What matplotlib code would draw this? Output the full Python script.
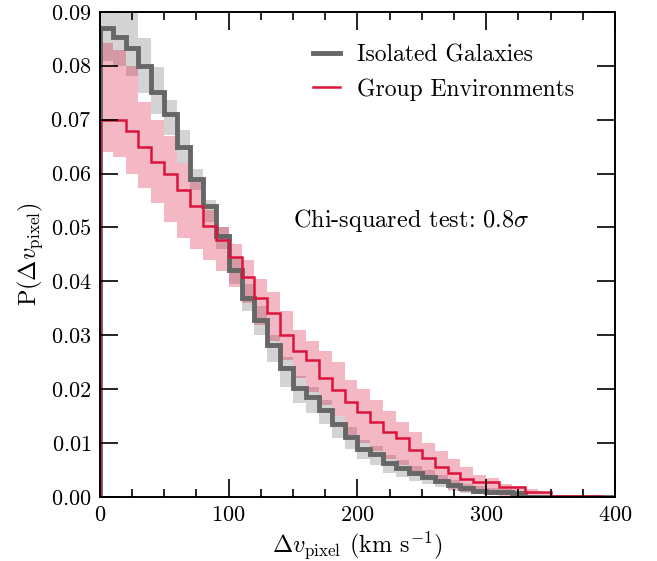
import numpy as np
import matplotlib
matplotlib.use('Agg')
import matplotlib.pyplot as plt
from matplotlib.ticker import MultipleLocator
from matplotlib.lines import Line2D

plt.rcParams['font.family'] = 'serif'
plt.rcParams['font.serif'] = ['cmr10', 'DejaVu Serif']
plt.rcParams['mathtext.fontset'] = 'cm'
plt.rcParams['axes.unicode_minus'] = False
plt.rcParams['axes.formatter.use_mathtext'] = True

# bin edges in km/s (10 km/s bins)
edges = np.arange(0, 410, 10)

# isolated galaxies: histogram and band
iso = [0.0870, 0.0853, 0.0832, 0.0800, 0.0751, 0.0710, 0.0650, 0.0590, 0.0540, 0.0484,
       0.0421, 0.0369, 0.0328, 0.0282, 0.0239, 0.0202, 0.0186, 0.0161, 0.0135, 0.0112,
       0.0090, 0.0080, 0.0063, 0.0053, 0.0045, 0.0038, 0.0030, 0.0022, 0.0017, 0.0012,
       0.0010, 0.0010, 0.0008, 0.0, 0.0, 0.0, 0.0, 0.0, 0.0, 0.0]
iso_lo = [0.0808, 0.0800, 0.0780, 0.0750, 0.0711, 0.0672, 0.0620, 0.0570, 0.0510, 0.0460,
          0.0395, 0.0345, 0.0300, 0.0250, 0.0205, 0.0175, 0.0155, 0.0135, 0.0110, 0.0090,
          0.0070, 0.0060, 0.0045, 0.0038, 0.0030, 0.0025, 0.0018, 0.0012, 0.0008, 0.0005,
          0.0004, 0.0003, 0.0002, 0.0, 0.0, 0.0, 0.0, 0.0, 0.0, 0.0]
iso_hi = [0.0950, 0.0950, 0.0920, 0.0851, 0.0798, 0.0737, 0.0680, 0.0608, 0.0551, 0.0500,
          0.0445, 0.0395, 0.0355, 0.0300, 0.0260, 0.0225, 0.0205, 0.0180, 0.0150, 0.0130,
          0.0105, 0.0095, 0.0078, 0.0068, 0.0058, 0.0050, 0.0040, 0.0032, 0.0025, 0.0020,
          0.0017, 0.0015, 0.0012, 0.0, 0.0, 0.0, 0.0, 0.0, 0.0, 0.0]

# group environments: histogram and band
grp = [0.0700, 0.0700, 0.0679, 0.0650, 0.0621, 0.0600, 0.0570, 0.0540, 0.0502, 0.0477,
       0.0445, 0.0408, 0.0369, 0.0341, 0.0300, 0.0270, 0.0254, 0.0220, 0.0199, 0.0177,
       0.0158, 0.0139, 0.0120, 0.0109, 0.0088, 0.0072, 0.0055, 0.0045, 0.0033, 0.0028,
       0.0028, 0.0018, 0.0018, 0.0010, 0.0010, 0.0002, 0.0002, 0.0002, 0.0002, 0.0]
grp_lo = [0.0640, 0.0630, 0.0600, 0.0573, 0.0545, 0.0510, 0.0480, 0.0460, 0.0440, 0.0420,
          0.0390, 0.0360, 0.0320, 0.0290, 0.0255, 0.0220, 0.0195, 0.0170, 0.0150, 0.0115,
          0.0100, 0.0085, 0.0070, 0.0060, 0.0045, 0.0035, 0.0025, 0.0015, 0.0010, 0.0005,
          0.0003, 0.0002, 0.0001, 0.0, 0.0, 0.0, 0.0, 0.0, 0.0, 0.0]
grp_hi = [0.0842, 0.0830, 0.0800, 0.0733, 0.0700, 0.0670, 0.0620, 0.0585, 0.0533, 0.0500,
          0.0470, 0.0440, 0.0405, 0.0380, 0.0345, 0.0310, 0.0290, 0.0270, 0.0250, 0.0217,
          0.0200, 0.0180, 0.0160, 0.0140, 0.0120, 0.0100, 0.0085, 0.0070, 0.0055, 0.0040,
          0.0035, 0.0025, 0.0020, 0.0015, 0.0010, 0.0003, 0.0002, 0.0002, 0.0002, 0.0]

fig = plt.figure(figsize=(6.57, 5.61), dpi=100)
ax = fig.add_axes([0.152, 0.114, 0.784, 0.865])

ax.stairs(iso_hi, edges, baseline=iso_lo, fill=True, color='#d3d3d3', lw=0)
ax.stairs(grp_hi, edges, baseline=grp_lo, fill=True, color='crimson', alpha=0.3, lw=0)
ax.stairs(iso, edges, color='#666666', lw=3.5)
ax.stairs(grp, edges, color='crimson', lw=1.8)

ax.set_xlim(0, 400)
ax.set_ylim(0, 0.09)
ax.xaxis.set_major_locator(MultipleLocator(100))
ax.xaxis.set_minor_locator(MultipleLocator(25))
ax.yaxis.set_major_locator(MultipleLocator(0.01))
ax.tick_params(which='both', direction='in', top=True, right=True, labelsize=16, width=1.2)
ax.tick_params(which='major', length=13, pad=6)
ax.tick_params(which='minor', length=6)
for s in ax.spines.values():
    s.set_linewidth(1.4)

ax.set_xlabel(r'$\Delta v_{\rm pixel}$ (km s$^{-1}$)', fontsize=17.5)
ax.set_ylabel(r'P($\Delta v_{\rm pixel}$)', fontsize=17.5)

handles = [Line2D([], [], color='#666666', lw=3.5), Line2D([], [], color='crimson', lw=1.8)]
ax.legend(handles, ['Isolated Galaxies', 'Group Environments'], loc='upper left',
          bbox_to_anchor=(0.4136, 0.933), borderaxespad=0, borderpad=0,
          frameon=False, fontsize=17, handlelength=1.15, handletextpad=0.7)

ax.text(150, 0.0512, r'Chi-squared test: 0.8$\sigma$', fontsize=17.5, va='center')

fig.savefig('out.png', dpi=100)
